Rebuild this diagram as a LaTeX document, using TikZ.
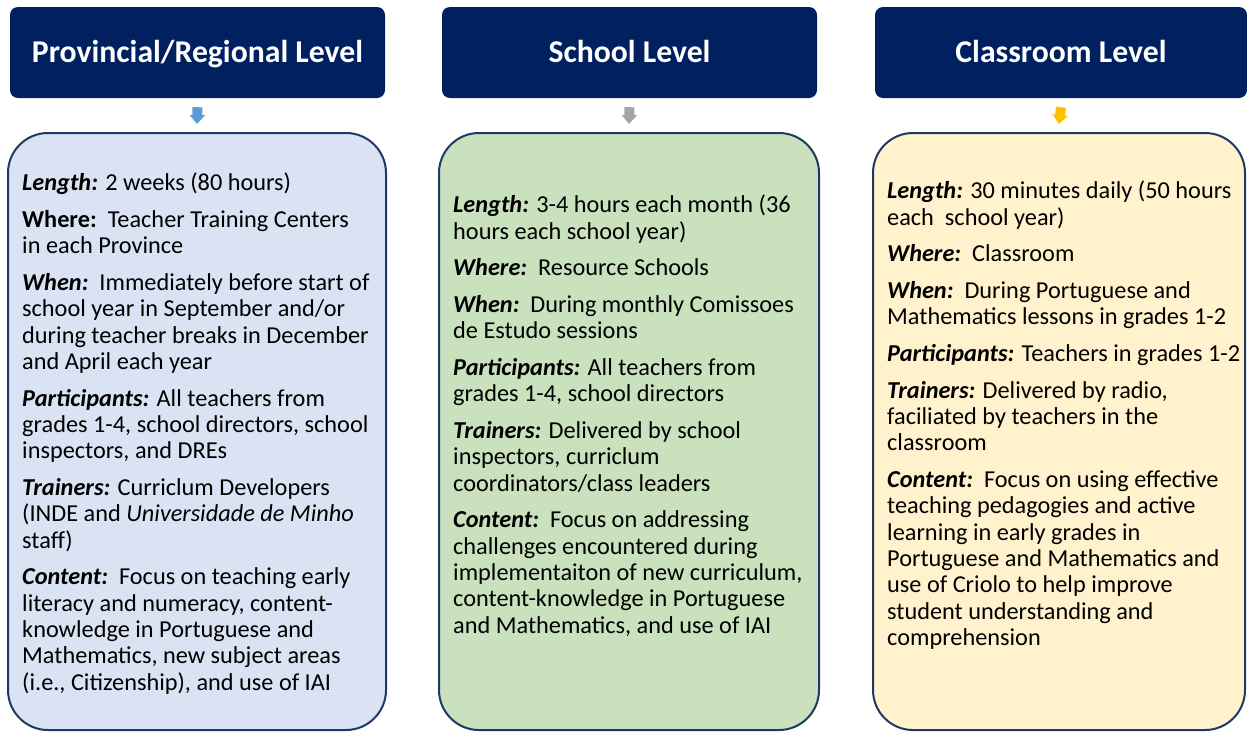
\documentclass[tikz,border=0pt]{standalone}
\usepackage{fontspec}
\setmainfont{Carlito}
\usetikzlibrary{arrows.meta}
\definecolor{navy}{HTML}{002060}
\definecolor{edge}{HTML}{203864}
\definecolor{fillA}{HTML}{DAE3F3}
\definecolor{fillB}{HTML}{C9E2BD}
\definecolor{fillC}{HTML}{FFF2CC}
\definecolor{arrA}{HTML}{5B9BD5}
\definecolor{arrB}{HTML}{A5A5A5}
\definecolor{arrC}{HTML}{FFC000}
\newcommand{\lbl}[1]{\textbf{\textit{#1}}}
\begin{document}
\begin{tikzpicture}[x=1pt,y=-1pt,
  hdr/.style={fill=navy, text=white, rounded corners=8pt, minimum height=91pt,
    font=\fontsize{31.7}{36}\selectfont\bfseries, inner sep=0pt,
    text height=25pt, text depth=6pt},
  panel/.style={draw=edge, line width=2pt, rounded corners=40pt, minimum height=597pt, inner sep=0pt},
  txt/.style={anchor=north west, align=left, inner sep=0pt, text=black,
    font=\fontsize{24.3}{26.3}\selectfont},
  blockarrow/.style={line width=10pt, -{Triangle[width=15pt,length=9pt]}}
]
\useasboundingbox (0,0) rectangle (1247,732);

% headers
\node[hdr, minimum width=375pt] (h1) at (197.5,52.5) {Provincial/Regional Level};
\node[hdr, minimum width=375pt] (h2) at (629.5,52.5) {School Level};
\node[hdr, minimum width=372pt] (h3) at (1061,52.5) {Classroom Level};

% panels
\node[panel, fill=fillA, minimum width=378pt] (b1) at (197,431.5) {};
\node[panel, fill=fillB, minimum width=380pt] (b2) at (629,431.5) {};
\node[panel, fill=fillC, minimum width=372pt] (b3) at (1059,431.5) {};

% arrows
\draw[blockarrow, draw=arrA] ([yshift=-9pt]h1.south) -- ([yshift=8pt]b1.north);
\draw[blockarrow, draw=arrB] ([yshift=-9pt]h2.south) -- ([yshift=8pt]b2.north);
\draw[blockarrow, draw=arrC] ([yshift=-9pt]h3.south) -- ([yshift=8pt]b3.north);

% texts
\node[txt] (t1) at (22,173) {%
\lbl{Length:} 2 weeks (80 hours)\\[10.4pt]
\textbf{Where:}\ \ Teacher Training Centers\\
in each Province\\[10.4pt]
\lbl{When:}\ \ Immediately before start of\\
school year in September and/or\\
during teacher breaks in December\\
and April each year\\[10.4pt]
\lbl{Participants:} All teachers from\\
grades 1-4, school directors, school\\
inspectors, and DREs\\[10.4pt]
\lbl{Trainers:} Curriclum Developers\\
(INDE and \textit{Universidade de Minho}\\
staff)\\[10.4pt]
\lbl{Content:}\ \ Focus on teaching early\\
literacy and numeracy, content-\\
knowledge in Portuguese and\\
Mathematics, new subject areas\\
(i.e., Citizenship), and use of IAI};

\node[txt] (t2) at (453,195) {%
\lbl{Length:} 3-4 hours each month (36\\
hours each school year)\\[10.4pt]
\lbl{Where:}\ \ Resource Schools\\[10.4pt]
\lbl{When:}\ \ During monthly Comissoes\\
de Estudo sessions\\[10.4pt]
\lbl{Participants:} All teachers from\\
grades 1-4, school directors\\[10.4pt]
\lbl{Trainers:} Delivered by school\\
inspectors, curriclum\\
coordinators/class leaders\\[10.4pt]
\lbl{Content:}\ \ Focus on addressing\\
challenges encountered during\\
implementaiton of new curriculum,\\
content-knowledge in Portuguese\\
and Mathematics, and use of IAI};

\node[txt] (t3) at (887,181) {%
\lbl{Length:} 30 minutes daily (50 hours\\
each\ \ school year)\\[10.4pt]
\lbl{Where:}\ \ Classroom\\[10.4pt]
\lbl{When:}\ \ During Portuguese and\\
Mathematics lessons in grades 1-2\\[10.4pt]
\lbl{Participants:} Teachers in grades 1-2\\[10.4pt]
\lbl{Trainers:} Delivered by radio,\\
faciliated by teachers in the\\
classroom\\[10.4pt]
\lbl{Content:}\ \ Focus on using effective\\
teaching pedagogies and active\\
learning in early grades in\\
Portuguese and Mathematics and\\
use of Criolo to help improve\\
student understanding and\\
comprehension};
\end{tikzpicture}
\end{document}
